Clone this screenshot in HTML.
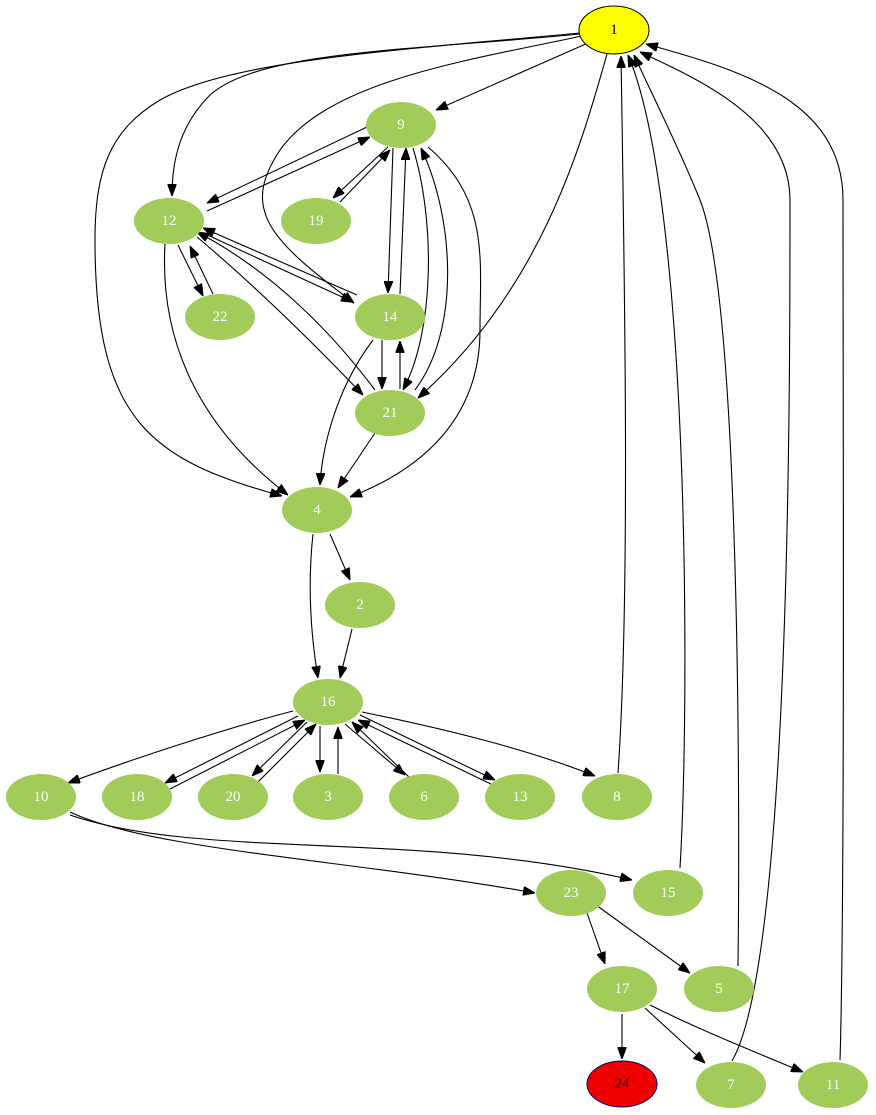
<!DOCTYPE html>
<html><head><meta charset="utf-8"><style>
html,body{margin:0;padding:0;background:#fff;}
svg{display:block;}
text{font-family:"Liberation Serif",serif;font-size:15px;fill:#fff;text-anchor:middle;dominant-baseline:central;}
path{fill:none;stroke:#000;stroke-width:1.1;marker-end:url(#a);}
ellipse.g{fill:#a1cc5a;stroke:none;}
</style></head><body>
<svg width="876" height="1115" viewBox="0 0 876 1115" xmlns="http://www.w3.org/2000/svg">
<defs><marker id="a" markerUnits="userSpaceOnUse" markerWidth="12" markerHeight="9" refX="12" refY="4.5" orient="auto"><path d="M0,0 L12,4.5 L0,9 z" style="fill:#000;stroke:#000;stroke-width:1;marker-end:none"/></marker></defs>
<g>
<path d="M588,43 L436,110"/>
<path d="M580,34 C420,50 260,50 210,95 C180,125 172,160 172,196"/>
<path d="M580,33 C400,50 230,60 160,100 C110,130 95,170 95,240 C95,420 150,460 282,496"/>
<path d="M582,36 C470,60 330,80 280,150 C240,210 270,240 354,303"/>
<path d="M607,54 C580,150 540,290 418,398"/>
<path d="M367,127 L207,203"/>
<path d="M207,211 L370,137"/>
<path d="M388,147 L333,198"/>
<path d="M340,202 L390,150"/>
<path d="M393,148 L388,293"/>
<path d="M400,294 L406,148"/>
<path d="M413,148 C435,220 435,330 403,390"/>
<path d="M415,390 C460,330 455,220 421,148"/>
<path d="M428,147 C490,200 480,260 480,330 C480,420 420,470 350,497"/>
<path d="M178,245 L203,296"/>
<path d="M213,294 L190,246"/>
<path d="M203,233 L353,302"/>
<path d="M357,295 L203,228"/>
<path d="M197,237 C260,290 320,350 363,395"/>
<path d="M375,390 C330,330 270,270 197,232"/>
<path d="M165,244 C160,330 190,420 288,495"/>
<path d="M382,340 L382,389"/>
<path d="M400,389 L400,341"/>
<path d="M373,340 C335,390 322,450 320,485"/>
<path d="M375,433 L338,488"/>
<path d="M330,534 L350,580"/>
<path d="M313,534 C308,580 310,630 318,678"/>
<path d="M352,629 L340,678"/>
<path d="M293,711 C220,730 130,760 68,783"/>
<path d="M298,716 L165,783"/>
<path d="M170,789 L305,720"/>
<path d="M307,722 L252,776"/>
<path d="M258,782 L316,724"/>
<path d="M320,726 L320,772"/>
<path d="M338,774 L338,727"/>
<path d="M345,724 L405,775"/>
<path d="M410,778 L352,722"/>
<path d="M360,715 L495,780"/>
<path d="M495,786 L358,720"/>
<path d="M362,712 C450,730 530,750 595,776"/>
<path d="M618,773 C630,600 625,300 621,56"/>
<path d="M680,868 C690,700 690,200 628,55"/>
<path d="M738,966 C740,800 740,300 700,200 C680,150 650,90 634,55"/>
<path d="M732,1061 C790,960 790,400 790,200 C790,120 700,80 640,52"/>
<path d="M840,1060 C845,900 843,400 843,200 C843,100 740,70 646,44"/>
<path d="M70,815 C200,860 420,830 632,880"/>
<path d="M70,812 C150,850 350,860 535,893"/>
<path d="M587,913 L605,964"/>
<path d="M596,905 L690,973"/>
<path d="M622,1014 L622,1059"/>
<path d="M645,1008 L705,1063"/>
<path d="M650,1005 C700,1030 750,1050 803,1072"/>
</g>
<ellipse cx="614" cy="30" rx="35" ry="24" fill="#ffff00" stroke="#000" stroke-width="1"/><text x="614" y="30" style="fill:#000">1</text>
<ellipse class="g" cx="401" cy="125" rx="35" ry="23"/><text x="401" y="125">9</text>
<ellipse class="g" cx="169" cy="221" rx="35" ry="23"/><text x="169" y="221">12</text>
<ellipse class="g" cx="316" cy="221" rx="35" ry="23"/><text x="316" y="221">19</text>
<ellipse class="g" cx="220" cy="317" rx="35" ry="23"/><text x="220" y="317">22</text>
<ellipse class="g" cx="390" cy="317" rx="35" ry="23"/><text x="390" y="317">14</text>
<ellipse class="g" cx="390" cy="413" rx="35" ry="23"/><text x="390" y="413">21</text>
<ellipse class="g" cx="317" cy="510" rx="35" ry="23"/><text x="317" y="510">4</text>
<ellipse class="g" cx="360" cy="605" rx="35" ry="23"/><text x="360" y="605">2</text>
<ellipse class="g" cx="328" cy="702" rx="35" ry="23"/><text x="328" y="702">16</text>
<ellipse class="g" cx="41" cy="797" rx="35" ry="23"/><text x="41" y="797">10</text>
<ellipse class="g" cx="137" cy="797" rx="35" ry="23"/><text x="137" y="797">18</text>
<ellipse class="g" cx="233" cy="797" rx="35" ry="23"/><text x="233" y="797">20</text>
<ellipse class="g" cx="328" cy="797" rx="35" ry="23"/><text x="328" y="797">3</text>
<ellipse class="g" cx="424" cy="797" rx="35" ry="23"/><text x="424" y="797">6</text>
<ellipse class="g" cx="520" cy="797" rx="35" ry="23"/><text x="520" y="797">13</text>
<ellipse class="g" cx="617" cy="797" rx="35" ry="23"/><text x="617" y="797">8</text>
<ellipse class="g" cx="571" cy="893" rx="35" ry="23"/><text x="571" y="893">23</text>
<ellipse class="g" cx="668" cy="893" rx="35" ry="23"/><text x="668" y="893">15</text>
<ellipse class="g" cx="622" cy="989" rx="35" ry="23"/><text x="622" y="989">17</text>
<ellipse class="g" cx="719" cy="989" rx="35" ry="23"/><text x="719" y="989">5</text>
<ellipse cx="622" cy="1084" rx="35" ry="23" fill="#ee0000" stroke="#000080" stroke-width="1"/><text x="622" y="1084" style="fill:#000">24</text>
<ellipse class="g" cx="731" cy="1085" rx="35" ry="23"/><text x="731" y="1085">7</text>
<ellipse class="g" cx="833" cy="1085" rx="35" ry="23"/><text x="833" y="1085">11</text>
</svg>
</body></html>
